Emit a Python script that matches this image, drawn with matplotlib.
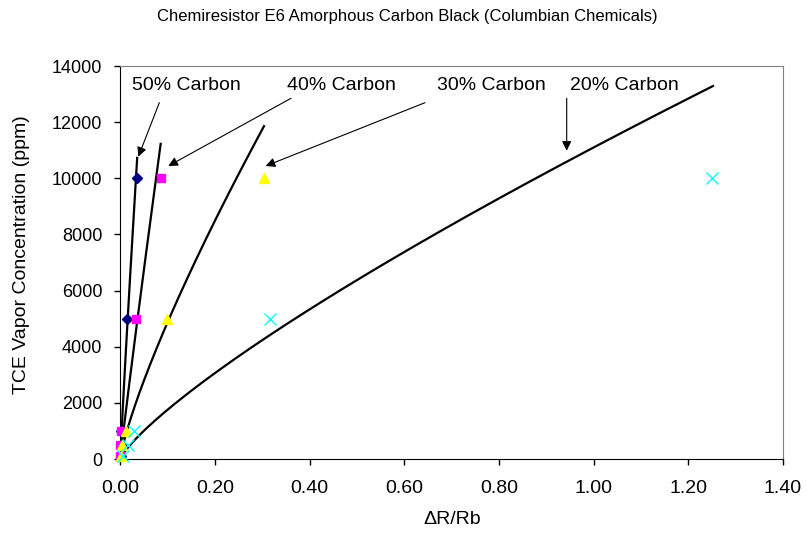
import numpy as np
import matplotlib
matplotlib.use("Agg")
import matplotlib.pyplot as plt

plt.rcParams.update({"font.family": ["Liberation Sans", "DejaVu Sans"]})

# Measured points: dR/Rb vs TCE vapor concentration (ppm)
x_50 = [0.001, 0.001, 0.002, 0.014, 0.035]
y_50 = [100, 500, 1000, 5000, 10000]
x_40 = [0.0, 0.0, 0.001, 0.033, 0.085]
y_40 = [100, 500, 1000, 5000, 10000]
x_30 = [0.001, 0.003, 0.011, 0.099, 0.303]
y_30 = [100, 500, 1000, 5000, 10000]
x_20 = [0.005, 0.016, 0.028, 0.317, 1.25]
y_20 = [100, 500, 1000, 5000, 10000]

# Power-law trendlines y = a * x^b, drawn up to x_end
labels = ["50% Carbon", "40% Carbon", "30% Carbon", "20% Carbon"]
trend_a = [230800, 116500, 30780, 11100]
trend_b = [0.92, 0.95, 0.80, 0.80]
trend_xend = [0.0356, 0.0852, 0.3035, 1.252]

# Label positions and arrow (tail -> tip) in data units
label_x = [0.024, 0.352, 0.668, 0.951]
label_y = 13320
arrow_tail = [(0.0824, 12693), (0.3606, 12850), (0.6436, 12693), (0.943, 12850)]
arrow_tip = [(0.038, 10770), (0.1014, 10438), (0.307, 10438), (0.943, 10983)]

fig = plt.figure(figsize=(8.06, 5.34), dpi=100)
ax = fig.add_axes([0.1493, 0.1404, 0.8222, 0.736])

for a, b, xe in zip(trend_a, trend_b, trend_xend):
    xs = np.linspace(0, xe, 300)
    ax.plot(xs, a * xs ** b, color="black", lw=1.6, zorder=2)

ax.plot(x_50, y_50, "D", color="#000080", ms=5, clip_on=False, zorder=3)
ax.plot(x_40, y_40, "s", color="#FF00FF", ms=6, clip_on=False, zorder=3)
ax.plot(x_30, y_30, "^", color="#FFFF00", ms=7, clip_on=False, zorder=3)
ax.plot(x_20, y_20, "x", color="#00FFFF", ms=8, mew=1.0, clip_on=False, zorder=3)

for lab, lx, tail, tip in zip(labels, label_x, arrow_tail, arrow_tip):
    ax.text(lx, label_y, lab, fontsize=14, ha="left", va="center")
    ax.annotate("", xy=tip, xytext=tail,
                arrowprops=dict(arrowstyle="-|>", color="black", lw=0.8,
                                mutation_scale=14, shrinkA=0, shrinkB=0))

ax.set_xlim(0, 1.4)
ax.set_ylim(0, 14000)
ax.set_xticks(np.arange(0, 1.41, 0.2))
ax.set_xticklabels([f"{v:.2f}" for v in np.arange(0, 1.41, 0.2)])
ax.set_yticks(np.arange(0, 14001, 2000))
ax.tick_params(axis="x", direction="out", length=4, width=1, labelsize=14, pad=11)
ax.tick_params(axis="y", direction="out", length=4, width=1, labelsize=13, pad=9)
for side in ("top", "right"):
    ax.spines[side].set_color("#808080")
for side in ("left", "bottom"):
    ax.spines[side].set_color("black")

fig.text(407 / 806, 1 - 21 / 534,
         "Chemiresistor E6 Amorphous Carbon Black (Columbian Chemicals)",
         fontsize=12, ha="center", va="baseline")
fig.text(452 / 806, 1 - 520 / 534, "\u0394R/Rb", fontsize=14, ha="center", va="center")
fig.text(22 / 806, 1 - 254.5 / 534, "TCE Vapor Concentration (ppm)", fontsize=14,
         rotation=90, ha="center", va="center")

fig.savefig("out.png", dpi=100)
